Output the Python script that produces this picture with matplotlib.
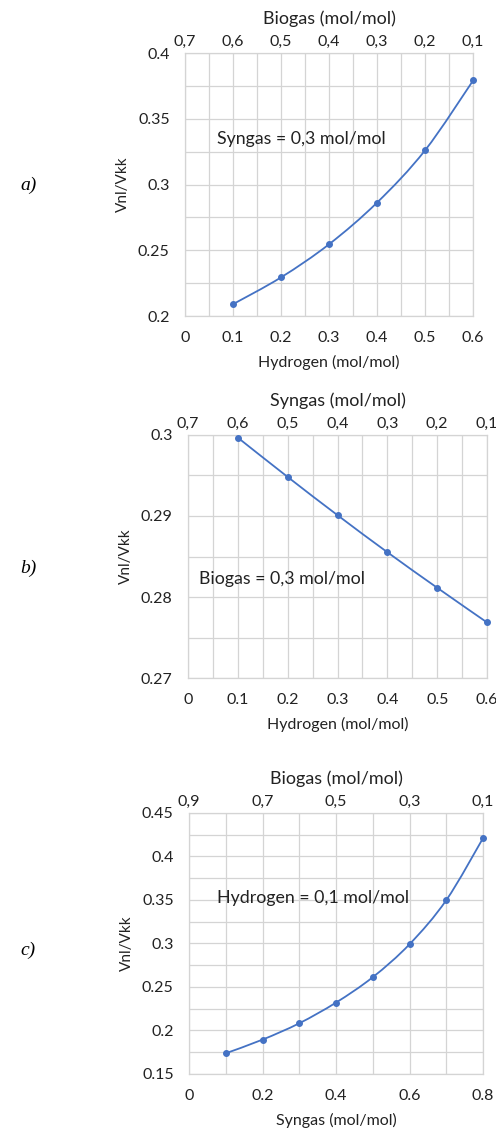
import matplotlib
matplotlib.use('Agg')
import matplotlib.pyplot as plt
from matplotlib.ticker import FuncFormatter
from matplotlib.path import Path
from matplotlib.patches import PathPatch

plt.rcParams['font.family'] = ['Lato', 'DejaVu Sans']

# panel a) Syngas = 0,3 mol/mol
hydrogen_a = [0.1, 0.2, 0.3, 0.4, 0.5, 0.6]
vnl_a = [0.209, 0.2294, 0.2546, 0.2863, 0.3261, 0.3792]
top_a = ['0,7', '0,6', '0,5', '0,4', '0,3', '0,2', '0,1']

# panel b) Biogas = 0,3 mol/mol
hydrogen_b = [0.1, 0.2, 0.3, 0.4, 0.5, 0.6]
vnl_b = [0.29967, 0.29482, 0.2901, 0.28553, 0.28114, 0.27686]
top_b = ['0,7', '0,6', '0,5', '0,4', '0,3', '0,2', '0,1']

# panel c) Hydrogen = 0,1 mol/mol
syngas_c = [0.1, 0.2, 0.3, 0.4, 0.5, 0.6, 0.7, 0.8]
vnl_c = [0.1738, 0.1895, 0.2083, 0.2321, 0.2613, 0.2992, 0.3499, 0.4212]
top_c = ['0,9', '0,7', '0,5', '0,3', '0,1']

blue = '#4472C4'
grid_col = '#d4d4d4'
txt_col = '#222222'
fmt = FuncFormatter(lambda v, p: '%g' % round(v, 4))


def smooth_path(xs, ys):
    # Excel-like smoothed line: cubic bezier through the points (Catmull-Rom handles)
    pts = list(zip(xs, ys))
    ext = [pts[0]] + pts + [pts[-1]]
    verts = [pts[0]]
    codes = [Path.MOVETO]
    for i in range(1, len(ext) - 2):
        p0, p1, p2, p3 = ext[i - 1], ext[i], ext[i + 1], ext[i + 2]
        c1 = (p1[0] + (p2[0] - p0[0]) / 6, p1[1] + (p2[1] - p0[1]) / 6)
        c2 = (p2[0] - (p3[0] - p1[0]) / 6, p2[1] - (p3[1] - p1[1]) / 6)
        verts += [c1, c2, p2]
        codes += [Path.CURVE4] * 3
    return Path(verts, codes)


panels = [
    dict(rect=[0.373, 0.7206, 0.581, 0.2325], x=hydrogen_a, y=vnl_a, xlim=(0, 0.6), ylim=(0.2, 0.4),
         xt=[0, 0.1, 0.2, 0.3, 0.4, 0.5, 0.6], xminor=0.05, yt=[0.2, 0.25, 0.3, 0.35, 0.4], yminor=0.025,
         top=top_a, toptitle='Biogas (mol/mol)', xlabel='Hydrogen (mol/mol)',
         note='Syngas = 0,3 mol/mol', note_xy=(0.067, 0.335), tag='a)', tag_y=185),
    dict(rect=[0.379, 0.4005, 0.603, 0.2149], x=hydrogen_b, y=vnl_b, xlim=(0, 0.6), ylim=(0.27, 0.3),
         xt=[0, 0.1, 0.2, 0.3, 0.4, 0.5, 0.6], xminor=0.05, yt=[0.27, 0.28, 0.29, 0.3], yminor=0.005,
         top=top_b, toptitle='Syngas (mol/mol)', xlabel='Hydrogen (mol/mol)',
         note='Biogas = 0,3 mol/mol', note_xy=(0.022, 0.2822), tag='b)', tag_y=568),
    dict(rect=[0.381, 0.0504, 0.593, 0.2308], x=syngas_c, y=vnl_c, xlim=(0, 0.8), ylim=(0.15, 0.45),
         xt=[0, 0.2, 0.4, 0.6, 0.8], xminor=0.1, yt=[0.15, 0.2, 0.25, 0.3, 0.35, 0.4, 0.45], yminor=0.025,
         top=top_c, toptitle='Biogas (mol/mol)', xlabel='Syngas (mol/mol)',
         note='Hydrogen = 0,1 mol/mol', note_xy=(0.076, 0.352), tag='c)', tag_y=950),
]

fig = plt.figure(figsize=(4.96, 11.31), dpi=100)

for p in panels:
    ax = fig.add_axes(p['rect'])
    ax.set_xlim(*p['xlim'])
    ax.set_ylim(*p['ylim'])
    ax.set_xticks(p['xt'])
    ax.set_yticks(p['yt'])
    n_x = int(round((p['xlim'][1] - p['xlim'][0]) / p['xminor']))
    n_y = int(round((p['ylim'][1] - p['ylim'][0]) / p['yminor']))
    ax.set_xticks([p['xlim'][0] + i * p['xminor'] for i in range(n_x + 1)], minor=True)
    ax.set_yticks([p['ylim'][0] + i * p['yminor'] for i in range(n_y + 1)], minor=True)
    ax.xaxis.set_major_formatter(fmt)
    ax.yaxis.set_major_formatter(fmt)
    ax.grid(True, which='both', color=grid_col, lw=0.9)
    ax.set_axisbelow(True)
    ax.tick_params(which='both', length=0, labelsize=11.5, colors=txt_col)
    ax.tick_params(axis='x', pad=11)
    ax.tick_params(axis='y', pad=11)
    for s in ax.spines.values():
        s.set_color(grid_col)
        s.set_linewidth(0.9)

    ax.add_patch(PathPatch(smooth_path(p['x'], p['y']), facecolor='none', edgecolor=blue,
                           lw=1.3, zorder=3, clip_on=False))
    ax.plot(p['x'], p['y'], linestyle='none', color=blue, marker='o', ms=4, zorder=4, clip_on=False)
    ax.set_xlabel(p['xlabel'], fontsize=11.5, labelpad=7, color=txt_col)
    ax.set_ylabel('Vnl/Vkk', fontsize=11, labelpad=6, color=txt_col)
    ax.text(p['note_xy'][0], p['note_xy'][1], p['note'], fontsize=12.8, va='center', ha='left',
            color=txt_col)

    top = ax.twiny()
    top.set_xlim(*p['xlim'])
    top.set_xticks(p['xt'])
    top.set_xticklabels(p['top'])
    top.tick_params(length=0, labelsize=11.5, colors=txt_col, pad=3)
    for s in top.spines.values():
        s.set_visible(False)
    top.set_xlabel(p['toptitle'], fontsize=13, labelpad=8, color=txt_col)

    fig.text(20 / 496, 1 - p['tag_y'] / 1131, p['tag'], fontsize=14, style='italic',
             family='Liberation Serif', va='center', ha='left')

fig.savefig('out.png', dpi=100)
